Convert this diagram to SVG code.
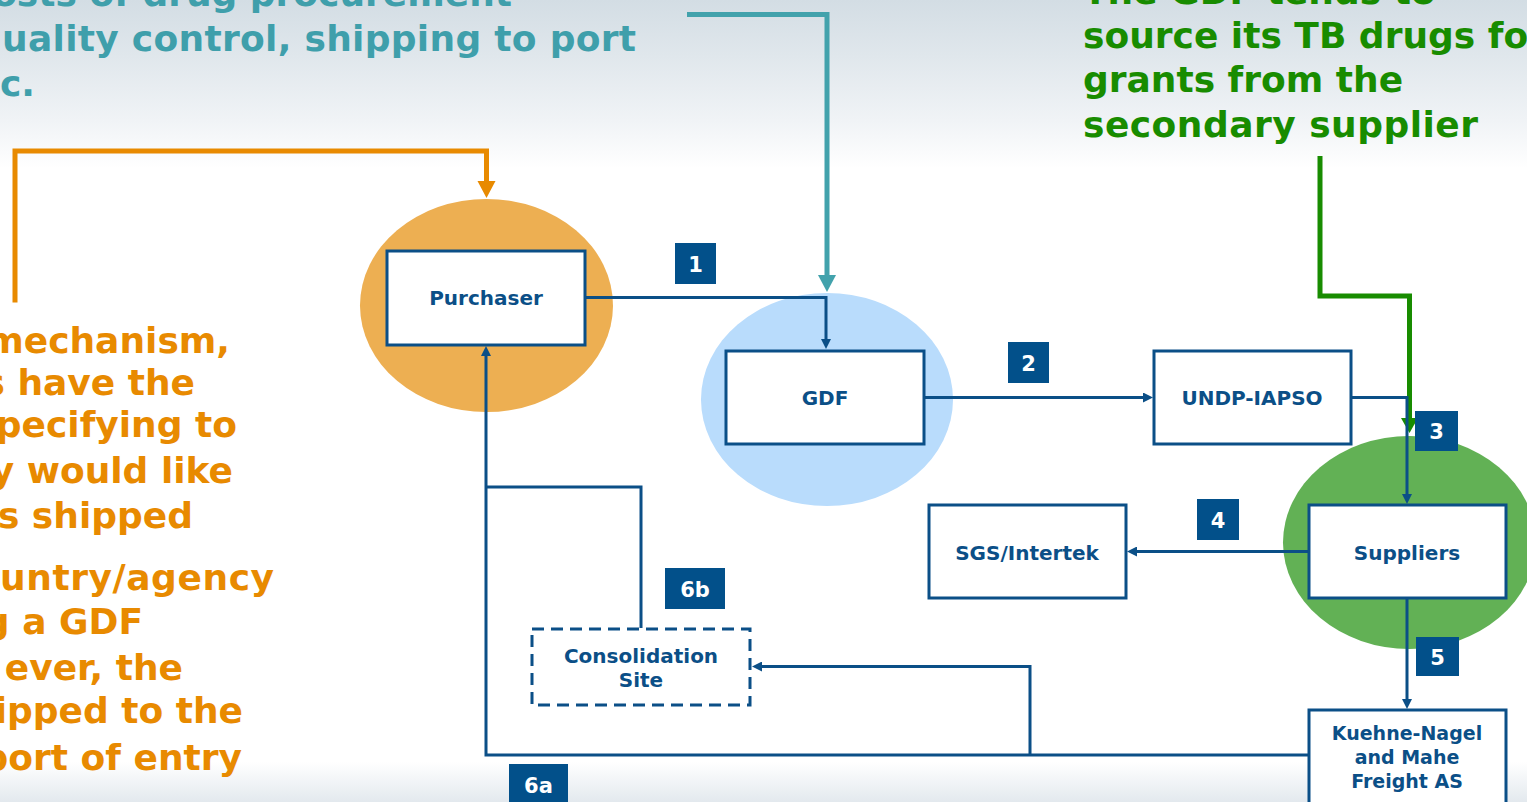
<svg xmlns="http://www.w3.org/2000/svg" width="1527" height="802" viewBox="0 0 1527 802">
<defs>
<linearGradient id="bg" x1="0" y1="0" x2="0" y2="1">
<stop offset="0" stop-color="#d3dde4"/>
<stop offset="0.07" stop-color="#e0e7ec"/>
<stop offset="0.15" stop-color="#f0f3f6"/>
<stop offset="0.21" stop-color="#ffffff"/>
<stop offset="0.95" stop-color="#ffffff"/>
<stop offset="1" stop-color="#e3e9ee"/>
</linearGradient>
<marker id="ab" markerUnits="userSpaceOnUse" markerWidth="10" markerHeight="10" viewBox="0 0 10 10" refX="0" refY="5" orient="auto">
<path d="M0,0 L10,5 L0,10 z" fill="#0b4f87"/>
</marker>
</defs>
<style>
.note{font-family:"DejaVu Sans",Verdana,sans-serif;font-weight:bold;font-size:36px}
.teal{fill:#3f9fab}
.green{fill:#188c00}
.orange{fill:#e88a00}
.box{fill:#ffffff;stroke:#0b4f87;stroke-width:3}
.dash{fill:#ffffff;stroke:#0b4f87;stroke-width:3;stroke-dasharray:12 7}
.lbl{font-family:"DejaVu Sans",Verdana,sans-serif;font-weight:bold;font-size:20px;fill:#0b4f87;text-anchor:middle}
.lbl2{font-family:"DejaVu Sans",Verdana,sans-serif;font-weight:bold;font-size:19px;fill:#0b4f87;text-anchor:middle}
.num rect{fill:#02508a}
.num text{font-family:"DejaVu Sans",Verdana,sans-serif;font-weight:bold;font-size:21px;fill:#ffffff;text-anchor:middle}
.conn{fill:none;stroke:#0b4f87;stroke-width:3;marker-end:url(#ab)}
.plain{fill:none;stroke:#0b4f87;stroke-width:3}
</style>
<rect x="0" y="0" width="1527" height="802" fill="url(#bg)"/>

<g id="notes">
<g class="note teal">
<text x="512" y="6" text-anchor="end">osts of drug procurement</text>
<text x="2" y="51" textLength="634" lengthAdjust="spacing">uality control, shipping to port</text>
<text x="35" y="96" text-anchor="end">c.</text>
</g>
<g class="note green">
<text x="1083" y="4">The GDF tends to</text>
<text x="1083" y="48">source its TB drugs fo</text>
<text x="1083" y="92">grants from the</text>
<text x="1083" y="137" textLength="395" lengthAdjust="spacing">secondary supplier</text>
</g>
<g class="note orange" text-anchor="end">
<text x="230" y="353">mechanism,</text>
<text x="195" y="395">s have the</text>
<text x="237" y="437">pecifying to</text>
<text x="233" y="483">y would like</text>
<text x="193" y="528">s shipped</text>
<text x="274" y="590" text-anchor="start" dx="-274" textLength="274" lengthAdjust="spacing">untry/agency</text>
<text x="143" y="634">g a GDF</text>
<text x="183" y="680">ever, the</text>
<text x="243" y="723">ipped to the</text>
<text x="242" y="770">port of entry</text>
</g>
</g>

<g id="circles">
<ellipse cx="486.5" cy="305.5" rx="126.5" ry="106.5" fill="#edaf52"/>
<ellipse cx="827" cy="399.5" rx="126" ry="106.5" fill="#b9dcfc"/>
<ellipse cx="1409.5" cy="542.5" rx="126.5" ry="106.5" fill="#62b155"/>
</g>

<g id="pointers">
<path d="M15,302.5 V151 H486.5 V181" fill="none" stroke="#e88a00" stroke-width="5"/>
<polygon points="477.5,181 495.5,181 486.5,198" fill="#e88a00"/>
<path d="M687,14.5 H827 V275" fill="none" stroke="#42a2ac" stroke-width="5"/>
<polygon points="818,275 836,275 827,292" fill="#42a2ac"/>
<path d="M1320,156 V296 H1409.5 V418" fill="none" stroke="#188c00" stroke-width="5"/>
<polygon points="1401,418 1418,418 1409.5,433" fill="#188c00"/>
</g>

<g id="connectors">
<path class="conn" d="M585,297.5 H826 V339"/>
<path class="conn" d="M924,397.5 H1143"/>
<path class="conn" d="M1351,397.5 H1407 V494"/>
<path class="conn" d="M1309,551.5 H1137"/>
<path class="conn" d="M1407,598 V699"/>
<path class="conn" d="M1309,755 H486 V356"/>
<path class="conn" d="M1030,755 V666.5 H762"/>
<path class="plain" d="M641,628 V487 H486"/>
</g>

<g id="purchaser">
<rect class="box" x="387" y="251" width="198" height="94"/>
<text class="lbl" x="486" y="305">Purchaser</text>
</g>
<g id="gdf">
<rect class="box" x="726" y="351" width="198" height="93"/>
<text class="lbl" x="825" y="405">GDF</text>
</g>
<g id="undp">
<rect class="box" x="1154" y="351" width="197" height="93"/>
<text class="lbl" x="1252" y="405">UNDP-IAPSO</text>
</g>
<g id="suppliers">
<rect class="box" x="1309" y="505" width="197" height="93"/>
<text class="lbl" x="1407" y="560">Suppliers</text>
</g>
<g id="sgs">
<rect class="box" x="929" y="505" width="197" height="93"/>
<text class="lbl" x="1027" y="560">SGS/Intertek</text>
</g>
<g id="consolidation">
<rect class="dash" x="532" y="629" width="218" height="76"/>
<text class="lbl" x="641" y="663">Consolidation</text>
<text class="lbl" x="641" y="687">Site</text>
</g>
<g id="kuehne">
<rect class="box" x="1309" y="710" width="197" height="100"/>
<text class="lbl2" x="1407" y="740">Kuehne-Nagel</text>
<text class="lbl2" x="1407" y="764">and Mahe</text>
<text class="lbl2" x="1407" y="788">Freight AS</text>
</g>

<g id="step-labels" class="num">
<rect x="675" y="243" width="41" height="41"/><text x="695.5" y="272">1</text>
<rect x="1008" y="342" width="41" height="41"/><text x="1028.5" y="371">2</text>
<rect x="1415" y="411" width="43" height="40"/><text x="1436.5" y="439">3</text>
<rect x="1197" y="499" width="42" height="41"/><text x="1218" y="528">4</text>
<rect x="1416" y="637" width="43" height="39"/><text x="1437.5" y="665">5</text>
<rect x="665" y="568" width="60" height="41"/><text x="695" y="597">6b</text>
<rect x="509" y="764" width="59" height="41"/><text x="538.5" y="793">6a</text>
</g>
</svg>
